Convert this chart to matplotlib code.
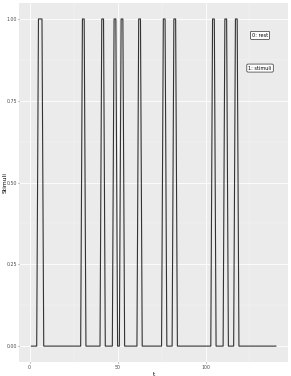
import matplotlib
matplotlib.use('Agg')
import matplotlib.pyplot as plt
from matplotlib.ticker import MultipleLocator

# time axis and the times when the stimulus is on
t_vals = list(range(1, 141))
on_times = [5, 6, 7, 30, 31, 41, 42, 48, 49, 52, 53, 62, 63,
            76, 77, 82, 83, 104, 105, 111, 112, 117, 118]
stim = [1 if t in on_times else 0 for t in t_vals]

x_ticks = [0, 50, 100]
y_ticks = [0.00, 0.25, 0.50, 0.75, 1.00]
notes = ["0: rest", "1: stimuli"]
note_y = [0.95, 0.85]
note_x = 131

fig = plt.figure(figsize=(2.91, 3.76), dpi=100)
ax = fig.add_axes([0.066, 0.036, 0.924, 0.957])
ax.set_facecolor('#EBEBEB')

ax.plot(t_vals, stim, color='#333333', lw=0.8)

# labels in little boxes like geom_label
for txt, yy in zip(notes, note_y):
    ax.text(note_x, yy, txt, fontsize=3.6, ha='center', va='center', color='black',
            bbox=dict(boxstyle='round,pad=0.3,rounding_size=0.2', fc='white', ec='black', lw=0.4))

ax.set_xlim(-5.95, 146.95)
ax.set_ylim(-0.05, 1.05)
ax.set_xticks(x_ticks)
ax.set_yticks(y_ticks)
ax.set_yticklabels([f"{v:.2f}" for v in y_ticks])
ax.xaxis.set_minor_locator(MultipleLocator(25))
ax.yaxis.set_minor_locator(MultipleLocator(0.125))
ax.grid(which='major', color='white', lw=0.6)
ax.grid(which='minor', color='#F5F5F5', lw=0.3)
ax.set_axisbelow(True)
for s in ax.spines.values():
    s.set_visible(False)
ax.tick_params(which='major', labelsize=3.4, labelcolor='#4D4D4D', color='#333333',
               length=1.0, width=0.4, pad=0.6)
ax.tick_params(which='minor', length=0)
ax.set_xlabel('t', fontsize=4.3)
ax.set_ylabel('Stimuli', fontsize=4.3)
ax.xaxis.set_label_coords(0.5, -0.027)
ax.yaxis.set_label_coords(-0.044, 0.5)

fig.savefig('out.png', dpi=100)
